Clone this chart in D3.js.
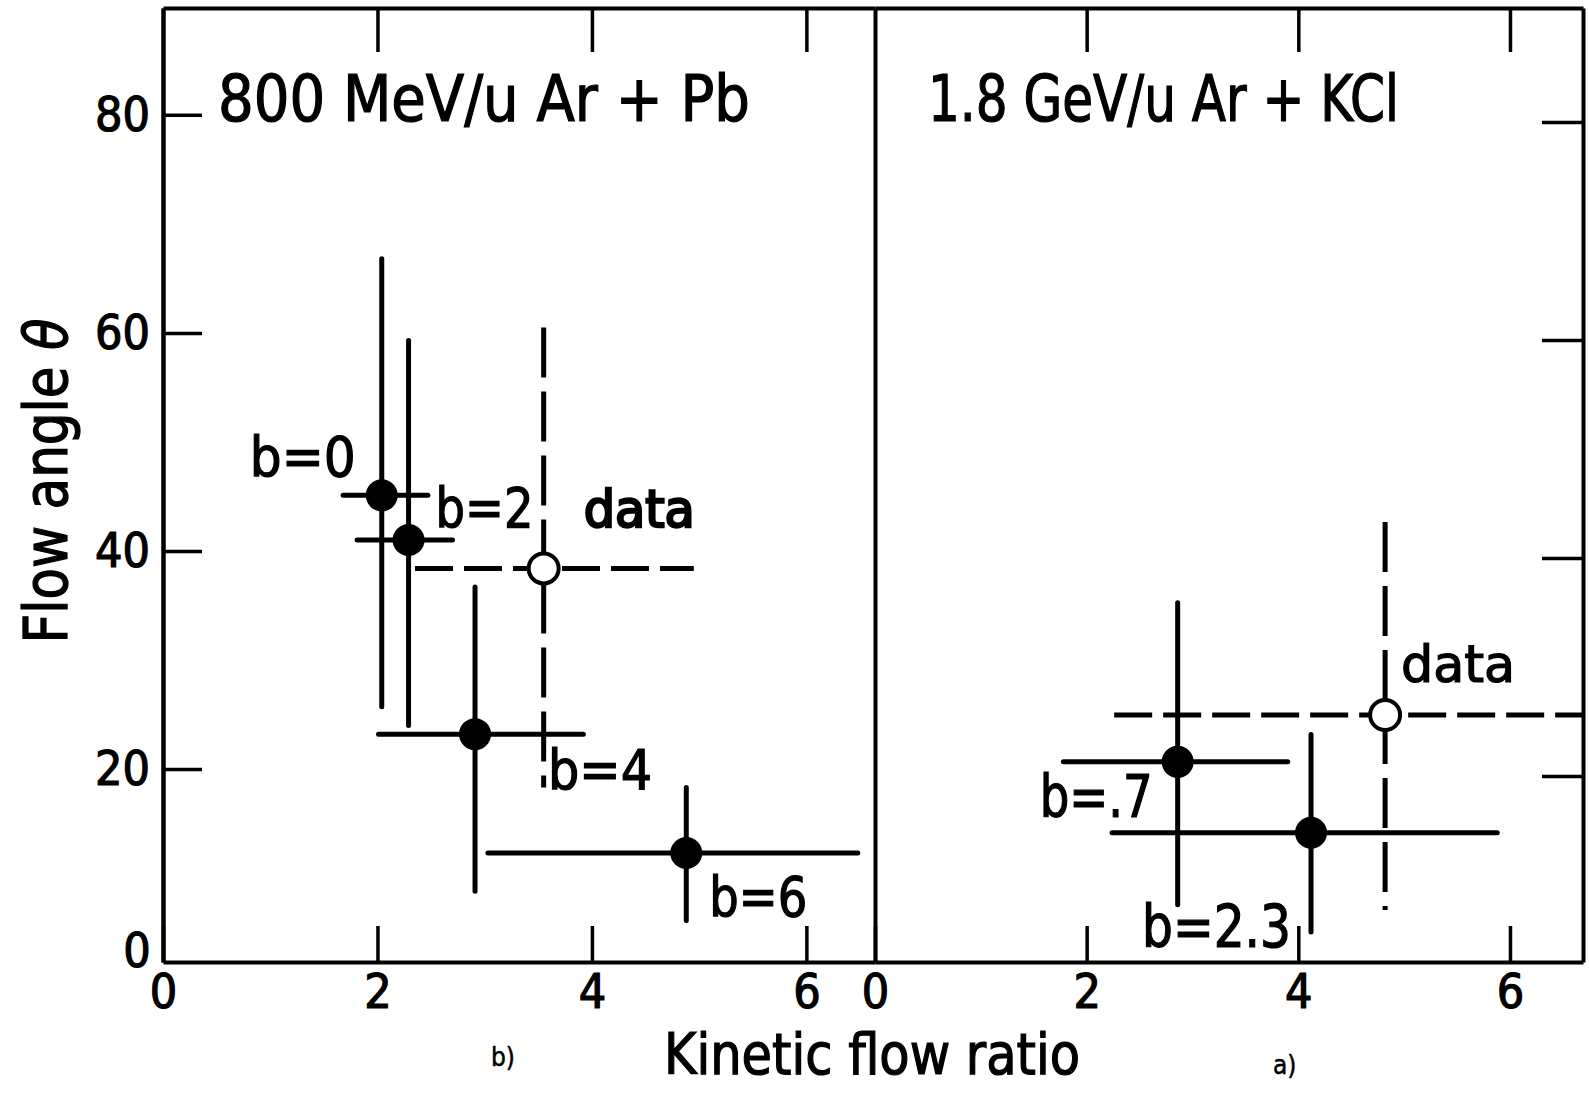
<!DOCTYPE html>
<html>
<head>
<meta charset="utf-8">
<script src="https://cdn.jsdelivr.net/npm/d3@7"></script>
<style>
  body { margin: 0; background: #fff; }
  svg { display: block; background: #fff; font-family: "DejaVu Sans Condensed", "DejaVu Sans", sans-serif; }
  svg text { stroke: #000; stroke-width: 1.2px; }
</style>
</head>
<body>
<svg id="chart" width="1589" height="1097"></svg>
<script>
// panel b) 800 MeV/u Ar + Pb : model points (filled) and measurement (open)
var pbModel = [
  { label: 'b=0', x: 2.04, xLo: 1.68, xHi: 2.47, y: 45.1, yLo: 25.7, yHi: 66.8 },
  { label: 'b=2', x: 2.29, xLo: 1.81, xHi: 2.70, y: 41.0, yLo: 24.0, yHi: 59.3 },
  { label: 'b=4', x: 2.91, xLo: 2.01, xHi: 3.92, y: 23.2, yLo: 8.8, yHi: 36.7 },
  { label: 'b=6', x: 4.88, xLo: 3.03, xHi: 6.48, y: 12.3, yLo: 6.1, yHi: 18.3 }
];
var pbData = [
  { label: 'data', x: 3.55, xLo: 2.35, xHi: 4.95, y: 38.4, yLo: 18.3, yHi: 60.5 }
];

// panel a) 1.8 GeV/u Ar + KCl
var kclModel = [
  { label: 'b=.7', x: 2.86, xLo: 1.78, xHi: 3.90, y: 21.3, yLo: 8.2, yHi: 35.9 },
  { label: 'b=2.3', x: 4.12, xLo: 2.24, xHi: 5.88, y: 14.8, yLo: 5.7, yHi: 23.8 }
];
var kclData = [
  { label: 'data', x: 4.82, xLo: 2.26, xHi: 6.69, y: 25.6, yLo: 7.7, yHi: 43.3 }
];

var xTicks = [0, 2, 4, 6];
var yTicks = [20, 40, 60, 80];
var panelTitles = ['800 MeV/u Ar + Pb', '1.8 GeV/u  Ar + KCl'];
var panelTags = ['b)', 'a)'];
var xTitle = 'Kinetic flow ratio';
var yTitle = 'Flow angle ';
var yTitleSymbol = 'θ';

window.Chart = new function() {
  this.render = function() {
    var svg = d3.select('#chart');

    // hand drawn original: both panels have slightly different scales
    var panels = [
      {
        x: d3.scaleLinear().domain([0, 6.64]).range([163, 875]),
        y: d3.scaleLinear().domain([2.3, 89.8]).range([962, 8]),
        model: pbModel, data: pbData,
        title: panelTitles[0], titleX: 218, titleLen: 532,
        tag: panelTags[0], tagX: 491, tagY: 1066,
        labels: {
          'b=0': [-26, -19, 'end', 56, 106],
          'b=2': [27, -13, 'start', 56, 98],
          'b=4': [73, 55, 'start', 56, 104],
          'b=6': [23, 63, 'start', 56, 98],
          'data': [40, -41, 'start', 52, 111]
        }
      },
      {
        x: d3.scaleLinear().domain([0, 6.69]).range([875, 1583]),
        y: d3.scaleLinear().domain([2.94, 90.46]).range([962, 8]),
        model: kclModel, data: kclData,
        title: panelTitles[1], titleX: 928, titleLen: 471,
        tag: panelTags[1], tagX: 1273, tagY: 1074,
        labels: {
          'b=.7': [-25, 55, 'end', 58, 113],
          'b=2.3': [-20, 114, 'end', 58, 149],
          'data': [16, -33, 'start', 52, 114]
        }
      }
    ];

    panels.forEach(function(p, i) { renderPanel(svg, p, i); });

    // y tick labels only on the left panel, plus the lone corner zero
    var yPb = panels[0].y;
    var left = svg.append('g')
      .attr('transform', 'translate(' + panels[0].x(0) + ',0)')
      .call(d3.axisLeft(yPb).tickValues(yTicks).tickSize(-39).tickSizeOuter(0).tickPadding(13)
        .tickFormat(d3.format('d')));
    styleAxis(left);

    svg.append('text')
      .attr('x', 137)
      .attr('y', yPb.range()[0] - 12)
      .attr('dy', '0.35em')
      .attr('text-anchor', 'middle')
      .attr('font-size', 48)
      .text('0');

    // right frame ticks for the KCl panel
    var right = svg.append('g')
      .attr('transform', 'translate(' + panels[1].x.range()[1] + ',0)')
      .call(d3.axisRight(panels[1].y).tickValues(yTicks).tickSize(-41).tickSizeOuter(0).tickFormat(''));
    styleAxis(right);

    // axis titles
    svg.append('text')
      .attr('x', 664)
      .attr('y', 1074)
      .attr('font-size', 57)
      .attr('textLength', 416)
      .attr('lengthAdjust', 'spacingAndGlyphs')
      .text(xTitle);

    var yt = svg.append('text')
      .attr('transform', 'translate(67,481) rotate(-90)')
      .attr('text-anchor', 'middle')
      .attr('font-size', 60)
      .attr('textLength', 325)
      .attr('lengthAdjust', 'spacingAndGlyphs');
    yt.append('tspan').text(yTitle);
    yt.append('tspan').attr('font-style', 'italic').text(yTitleSymbol);
  };

  // PRIVATE

  var styleAxis = function(g) {
    g.attr('font-family', null).attr('font-size', 48);
    g.select('.domain').attr('stroke', '#000').attr('stroke-width', 4);
    g.selectAll('.tick line').attr('stroke', '#000').attr('stroke-width', 3.5);
    g.selectAll('.tick text').attr('fill', '#000');
  };

  var renderPanel = function(svg, p, i) {
    var x = p.x, y = p.y;
    var g = svg.append('g').attr('class', 'panel panel-' + i);

    // frame: bottom axis with labels, top ticks, left edge
    var bottom = g.append('g')
      .attr('transform', 'translate(0,' + y.range()[0] + ')')
      .call(d3.axisBottom(x).tickValues(xTicks).tickSize(-36).tickSizeOuter(0).tickPadding(12)
        .tickFormat(d3.format('d')));
    styleAxis(bottom);

    var top = g.append('g')
      .attr('transform', 'translate(0,' + y.range()[1] + ')')
      .call(d3.axisTop(x).tickValues(xTicks.slice(1)).tickSize(-44).tickSizeOuter(0).tickFormat(''));
    styleAxis(top);

    var edge = g.append('g')
      .attr('transform', 'translate(' + x(0) + ',0)')
      .call(d3.axisLeft(y).tickValues([]).tickSizeOuter(0));
    styleAxis(edge);

    // title and panel tag
    g.append('text')
      .attr('x', p.titleX)
      .attr('y', 121)
      .attr('font-size', 64)
      .attr('textLength', p.titleLen)
      .attr('lengthAdjust', 'spacingAndGlyphs')
      .text(p.title);

    g.append('text')
      .attr('x', p.tagX)
      .attr('y', p.tagY)
      .attr('font-size', 26)
      .style('stroke-width', '0.5px')
      .text(p.tag);

    // error bars
    var all = p.model.map(function(d) { return { d: d, open: false }; })
      .concat(p.data.map(function(d) { return { d: d, open: true }; }));

    all.forEach(function(e) {
      var d = e.d;
      g.append('line')
        .attr('x1', x(d.xLo)).attr('x2', x(d.xHi))
        .attr('y1', y(d.y)).attr('y2', y(d.y))
        .attr('stroke', '#000')
        .attr('stroke-width', 5)
        .attr('stroke-linecap', e.open ? 'butt' : 'round')
        .attr('stroke-dasharray', e.open ? '38 11' : null);

      g.append('line')
        .attr('x1', x(d.x)).attr('x2', x(d.x))
        .attr('y1', y(d.yHi)).attr('y2', y(d.yLo))
        .attr('stroke', '#000')
        .attr('stroke-width', 5)
        .attr('stroke-linecap', e.open ? 'butt' : 'round')
        .attr('stroke-dasharray', e.open ? '50 14' : null);
    });

    // markers
    g.selectAll('circle.model')
      .data(p.model)
      .enter().append('circle')
      .attr('class', 'model')
      .attr('cx', function(d) { return x(d.x); })
      .attr('cy', function(d) { return y(d.y); })
      .attr('r', 16)
      .attr('fill', '#000');

    g.selectAll('circle.data')
      .data(p.data)
      .enter().append('circle')
      .attr('class', 'data')
      .attr('cx', function(d) { return x(d.x); })
      .attr('cy', function(d) { return y(d.y); })
      .attr('r', 15)
      .attr('fill', '#fff')
      .attr('stroke', '#000')
      .attr('stroke-width', 4);

    // point labels
    g.selectAll('text.point')
      .data(all)
      .enter().append('text')
      .attr('class', 'point')
      .each(function(e) {
        var o = p.labels[e.d.label];
        d3.select(this)
          .attr('x', x(e.d.x) + o[0])
          .attr('y', y(e.d.y) + o[1])
          .attr('text-anchor', o[2])
          .attr('font-size', o[3])
          .attr('textLength', o[4])
          .attr('lengthAdjust', 'spacingAndGlyphs')
          .style('stroke-width', e.open && i === 0 ? '2.4px' : null)
          .text(e.d.label);
      });
  };
};

Chart.render();
</script>
</body>
</html>
